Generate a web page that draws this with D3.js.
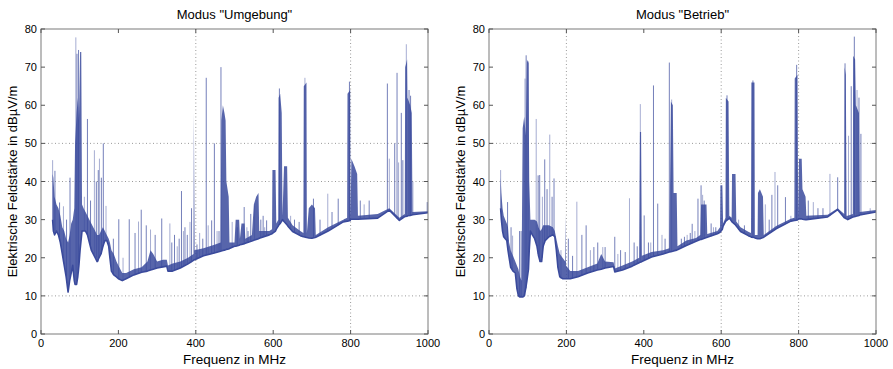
<!DOCTYPE html>
<html>
<head>
<meta charset="utf-8">
<script src="https://cdn.jsdelivr.net/npm/d3@7"></script>
<style>
  body { margin: 0; background: #fff; }
  text { font-family: "Liberation Sans", Arial, Helvetica, sans-serif; fill: #000; }
</style>
</head>
<body>
<svg id="chart" width="893" height="369"></svg>
<script>
// axis ticks
const xTicks = [0, 200, 400, 600, 800, 1000];
const yTicks = [0, 10, 20, 30, 40, 50, 60, 70, 80];
const gridY = [10, 40, 50];
const gridXUmgebung = [400, 800];
const gridXBetrieb = [200, 600, 800];

// noise band per frequency: [MHz, lower, upper] in dBµV/m
const bandUmgebung = [
  [30, 30, 42], [32, 27, 41], [35, 26, 36], [40, 27, 34], [45, 26, 33], [50, 24, 31],
  [55, 21, 28], [60, 18, 27], [65, 15, 25], [70, 11, 24], [74, 14, 26], [78, 16, 29],
  [82, 18, 30], [86, 14, 33], [88, 13, 50], [92, 13, 58], [95, 15, 62], [98, 18, 56],
  [101, 22, 74], [104, 25, 74], [106, 27, 34], [110, 27, 33], [115, 27, 32], [120, 26, 31],
  [125, 24, 30], [130, 22, 29], [135, 21, 28], [140, 20, 27], [145, 19, 26], [150, 20, 26],
  [155, 21, 27], [160, 23, 28], [165, 24.5, 27], [170, 24.5, 26], [175, 23, 25], [178, 20, 24],
  [182, 16.5, 22], [188, 15.5, 21], [195, 15, 19], [200, 14.5, 18], [210, 14, 16], [220, 14.5, 16],
  [240, 15.5, 17], [260, 16.2, 17.5], [275, 16.5, 19], [283, 16.8, 22], [290, 17, 21], [300, 17.3, 19],
  [315, 17.6, 19.5], [325, 17.8, 19.5], [328, 16.5, 18], [340, 16.5, 18.5], [360, 17.3, 19], [380, 18.4, 20],
  [394, 19.3, 21], [395, 19.4, 58], [397, 19.5, 22], [420, 20.5, 22.5], [450, 21.3, 23.5], [464, 21.7, 24],
  [466, 21.8, 56], [470, 21.9, 60], [474, 22, 58], [477, 22.1, 56], [479, 22.2, 40], [485, 22.3, 36],
  [487, 22.4, 24], [500, 23, 24], [503, 23, 30], [512, 23.3, 30], [514, 23.4, 25], [518, 23.5, 29],
  [526, 23.7, 29], [528, 23.8, 25], [545, 24.4, 26], [550, 24.6, 34], [556, 24.8, 36], [562, 25, 37],
  [564, 25.1, 27], [590, 26, 27], [597, 26.3, 27.5], [598, 26.4, 43], [606, 27, 43], [608, 27.5, 29],
  [613, 28.3, 30], [614, 28.5, 62], [618, 29, 63], [622, 29.6, 58], [624, 30, 31], [628, 29.5, 44],
  [636, 28.6, 44], [638, 28.3, 30.5], [650, 26.9, 28.5], [670, 25.8, 27], [678, 25.5, 26.5], [679, 25.5, 65],
  [686, 25.3, 66], [687, 25.3, 26.5], [692, 25.2, 33], [700, 25.1, 34], [708, 25.3, 33], [710, 25.4, 26],
  [742, 27, 28], [781, 29.4, 30], [791, 29.6, 30.5], [792, 29.6, 63], [799, 29.8, 64], [800, 30.1, 31],
  [802, 30.1, 46], [810, 30.1, 44], [817, 30.1, 42], [819, 30.1, 31], [870, 30.4, 31.5], [900, 32.5, 33],
  [926, 29.8, 30.5], [940, 30.8, 31.5], [941, 30.8, 70], [946, 30.9, 72], [947, 31, 62], [954, 31.1, 60],
  [958, 31.2, 58], [960, 31.3, 32], [1000, 31.8, 32.2]
];

// single carriers: [MHz, base, peak]
const spikesUmgebung = [
  [30, 30, 45.6], [36, 27, 42.8], [48, 25, 34.5], [58, 19, 33.5], [66, 15, 30], [75, 15, 41],
  [90, 14, 77.8], [93, 14, 73.5], [97, 16, 74.5], [112, 27, 36], [120, 26, 56.4], [128, 23, 35],
  [138, 21, 48.2], [143, 20, 40], [148, 19, 43], [151, 20, 46], [156, 21, 41], [161, 23, 50],
  [168, 24.5, 33.6], [187, 15.5, 25], [201, 14.5, 30.1], [212, 14, 20], [228, 15, 30.1], [243, 15.5, 26.5],
  [252, 16, 29.5], [259, 16.2, 32.6], [272, 16.5, 28.5], [283, 16.8, 27.4], [295, 17.2, 26], [312, 17.5, 30.3],
  [333, 16.5, 29], [338, 16.6, 24], [345, 16.8, 26], [352, 17, 23], [357, 17.2, 25], [363, 17.4, 37.5],
  [368, 17.7, 27], [372, 18, 28], [378, 18.2, 26], [385, 18.6, 29.4], [389, 18.8, 33],
  [403, 19.6, 23.5], [410, 19.9, 26.5], [418, 20.4, 25], [427, 20.7, 67.2], [432, 20.9, 28.5], [441, 21.1, 29.8],
  [448, 21.2, 50], [455, 21.4, 27], [460, 21.6, 27], [465, 21.8, 70], [494, 22.8, 29.4], [507, 23.1, 28],
  [525, 23.7, 33.3], [532, 23.9, 28], [535, 24, 27], [542, 24.3, 31.5], [552, 24.7, 33.7], [568, 25.2, 30],
  [574, 25.4, 31], [578, 25.6, 28], [583, 25.8, 29.8], [616, 28.7, 64.4], [645, 27.3, 31], [655, 26.5, 30],
  [667, 25.9, 29.4], [682, 25.4, 67.2], [704, 25.2, 35.5], [721, 25.8, 30], [741, 27, 36.8], [752, 27.6, 32],
  [768, 28.5, 35.5], [785, 29.4, 30.2], [797, 29.8, 66.2], [825, 30.2, 35], [835, 30.2, 34], [848, 30.3, 35],
  [895, 32, 65.7], [900, 32.5, 46], [914, 31, 50], [920, 30.3, 68.5], [924, 30, 45], [931, 30.2, 58],
  [935, 30.5, 45.6], [944, 30.9, 76], [951, 31, 64], [955, 31.1, 62.5], [961, 31.3, 40], [998, 31.8, 34.6]
];

const bandBetrieb = [
  [30, 33, 41], [32, 30, 37], [35, 27, 33], [38, 25.5, 31], [42, 25, 30], [46, 24.5, 29],
  [49, 22, 28], [52, 20, 24], [56, 17.5, 22], [62, 16.5, 20.5], [68, 16, 19], [72, 12, 18],
  [76, 10, 17], [80, 9.7, 15], [84, 9.7, 14], [87, 9.7, 54], [91, 10, 57], [95, 12, 52],
  [98, 14, 72], [102, 17, 71], [104, 22, 40], [107, 27, 30], [112, 26, 30], [118, 25, 30],
  [124, 23, 29.5], [128, 20.5, 28], [132, 19, 27], [136, 19, 27.5], [140, 23, 28.5], [145, 24.5, 28.5],
  [155, 25.5, 28.5], [165, 26, 28], [170, 25.5, 27], [174, 22, 25], [178, 17.5, 23], [183, 15, 21],
  [190, 14.5, 20], [197, 14.5, 19], [198, 14.5, 31.5], [199, 14.5, 18], [210, 14.5, 16.5], [230, 15, 16.5],
  [255, 16, 17.5], [280, 16.8, 18.5], [290, 17, 21], [300, 17.3, 19], [322, 17.7, 18.8], [325, 16.3, 17.2],
  [345, 16.8, 18], [370, 17.8, 19], [388, 18.7, 20], [390, 18.8, 53], [393, 18.9, 53], [395, 19, 20.5],
  [420, 20.2, 21.5], [450, 21, 22], [466, 21.5, 22.5], [470, 21.6, 61], [475, 21.7, 60], [477, 21.8, 37],
  [485, 22, 37], [487, 22.1, 23], [510, 23.2, 24.5], [535, 24.3, 25.2], [546, 24.8, 26], [548, 24.8, 34],
  [562, 25.3, 34], [564, 25.4, 26.2], [590, 26.3, 27], [597, 26.7, 28], [598, 26.8, 39], [603, 27.5, 39],
  [605, 28.3, 29], [611, 29.5, 30.5], [612, 29.6, 62], [619, 30.2, 61], [621, 30.4, 31], [627, 29.6, 30.5],
  [628, 29.4, 42], [637, 28.6, 42], [639, 28.3, 29.5], [650, 26.9, 28], [670, 25.8, 26.8], [677, 25.5, 26.5],
  [678, 25.4, 66], [686, 25.3, 66], [687, 25.2, 26], [694, 25, 26], [695, 25, 37], [700, 25, 38],
  [708, 25.3, 36], [710, 25.4, 26], [742, 27.6, 28.3], [780, 29.6, 30.2], [789, 29.8, 30.5], [790, 29.8, 67],
  [797, 29.9, 68], [799, 30.1, 31], [801, 30.2, 46], [808, 30.2, 46], [810, 30.1, 38], [818, 30, 36],
  [820, 30, 31], [875, 30.7, 31.3], [901, 32.6, 33], [918, 30.5, 31.5], [919, 30.5, 70], [922, 30.3, 68],
  [924, 30.2, 31], [927, 30, 31], [940, 30.7, 31.5], [941, 30.7, 73], [946, 30.8, 72], [948, 30.9, 60],
  [956, 31.1, 58], [958, 31.2, 32], [1000, 32, 32.5]
];

const spikesBetrieb = [
  [30, 33, 43], [48, 24, 34.6], [57, 17.5, 28], [61, 17, 25.8], [79, 9.7, 27], [83, 9.7, 27],
  [93, 10, 67], [96, 12, 73.1], [101, 17, 71.5], [122, 24, 56.4], [127, 21, 41.6], [131, 19, 41.7],
  [138, 20, 36], [144, 24, 45.8], [150, 25, 38], [157, 25.5, 52.3], [163, 26, 36], [168, 25.8, 40.8],
  [186, 14.5, 22], [205, 14.5, 25], [216, 14.6, 20.5], [227, 14.9, 34.7], [240, 15.4, 26], [251, 15.8, 28.5],
  [262, 16.2, 22], [271, 16.5, 22.8], [281, 16.8, 24], [294, 17.2, 22.8], [300, 17.3, 22.8], [325, 16.3, 25.5],
  [333, 16.5, 21], [340, 16.6, 22], [352, 17, 21.5], [363, 17.5, 35.6], [375, 18, 24], [383, 18.5, 23],
  [391, 18.8, 60.3], [401, 19.3, 31.1], [412, 19.8, 24], [418, 20.1, 24], [425, 20.4, 65.2], [436, 20.8, 34.2],
  [447, 21, 26], [455, 21.2, 25], [466, 21.5, 71.2], [472, 21.6, 61.5], [497, 22.6, 25], [505, 23, 25.5],
  [512, 23.3, 26], [520, 23.6, 26.5], [525, 23.8, 28.9], [532, 24.1, 27], [540, 24.5, 35.5], [548, 24.8, 39],
  [552, 24.9, 36.5], [556, 25, 35], [574, 25.6, 29], [580, 25.9, 28], [586, 26.1, 28], [615, 29.9, 62.6],
  [645, 27.3, 30], [660, 26.3, 28.5], [682, 25.4, 66.5], [714, 25.6, 34],
  [724, 26.3, 30], [731, 26.8, 36.5], [739, 27.4, 42.5], [746, 27.8, 39], [766, 28.9, 35.9], [780, 29.6, 31],
  [795, 29.9, 70.6], [825, 30.1, 35], [838, 30.2, 34.6], [850, 30.3, 33], [863, 30.4, 33], [881, 30.9, 42],
  [901, 32.6, 41.1], [920, 30.4, 71], [929, 30.1, 52], [936, 30.4, 65], [944, 30.8, 78], [951, 31, 64],
  [956, 31.1, 62], [961, 31.2, 52.5], [985, 31.8, 33]
];

const lineColor = "#3a4a9c";
const svg = d3.select("#chart");

function drawPanel(left, right, title, band, spikes, gridX, clipId) {
  const top = 29, bottom = 334;
  const x = d3.scaleLinear().domain([0, 1000]).range([left, right]);
  const y = d3.scaleLinear().domain([0, 80]).range([bottom, top]);
  const g = svg.append("g");

  g.append("clipPath").attr("id", clipId)
    .append("rect").attr("x", left).attr("y", top)
    .attr("width", right - left).attr("height", bottom - top);

  // dotted grid
  g.selectAll(".gy").data(gridY).enter().append("line")
    .attr("x1", left).attr("x2", right)
    .attr("y1", d => y(d)).attr("y2", d => y(d))
    .attr("stroke", "#808080").attr("stroke-width", 0.8)
    .attr("stroke-dasharray", "1,2.5");
  g.selectAll(".gx").data(gridX).enter().append("line")
    .attr("x1", d => x(d)).attr("x2", d => x(d))
    .attr("y1", top).attr("y2", bottom)
    .attr("stroke", "#909090").attr("stroke-width", 0.9)
    .attr("stroke-dasharray", "1,2.5");

  const plot = g.append("g").attr("clip-path", "url(#" + clipId + ")");

  plot.selectAll(".spike").data(spikes).enter().append("line")
    .attr("x1", d => x(d[0])).attr("x2", d => x(d[0]))
    .attr("y1", d => y(d[1])).attr("y2", d => y(d[2]))
    .attr("stroke", lineColor)
    .attr("stroke-width", 1)
    .attr("stroke-opacity", (d, i) => i % 3 == 0 ? 0.45 : 0.7);

  const area = d3.area()
    .x(d => x(d[0]))
    .y0(d => y(d[1]))
    .y1(d => y(d[2]));
  plot.append("path")
    .datum(band)
    .attr("d", area)
    .attr("fill", lineColor)
    .attr("fill-opacity", 0.85);

  // lower envelope drawn as the noise floor line
  const floorLine = d3.line()
    .x(d => x(d[0]))
    .y(d => y(d[1]));
  plot.append("path")
    .datum(band)
    .attr("d", floorLine)
    .attr("fill", "none")
    .attr("stroke", lineColor)
    .attr("stroke-width", 1.6)
    .attr("stroke-linejoin", "round");

  // frame + inward ticks on all sides
  g.append("rect").attr("x", left).attr("y", top)
    .attr("width", right - left).attr("height", bottom - top)
    .attr("fill", "none").attr("stroke", "#7a7a7a").attr("stroke-width", 1);

  const tk = 4;
  g.selectAll(".xtb").data(xTicks).enter().append("line")
    .attr("x1", d => x(d)).attr("x2", d => x(d))
    .attr("y1", bottom).attr("y2", bottom - tk).attr("stroke", "#555");
  g.selectAll(".xtt").data(xTicks).enter().append("line")
    .attr("x1", d => x(d)).attr("x2", d => x(d))
    .attr("y1", top).attr("y2", top + tk).attr("stroke", "#555");
  g.selectAll(".ytl").data(yTicks).enter().append("line")
    .attr("x1", left).attr("x2", left + tk)
    .attr("y1", d => y(d)).attr("y2", d => y(d)).attr("stroke", "#555");
  g.selectAll(".ytr").data(yTicks).enter().append("line")
    .attr("x1", right).attr("x2", right - tk)
    .attr("y1", d => y(d)).attr("y2", d => y(d)).attr("stroke", "#555");

  g.selectAll(".xl").data(xTicks).enter().append("text")
    .attr("x", d => x(d)).attr("y", bottom + 13)
    .attr("text-anchor", "middle").style("font-size", "11px")
    .text(d => d);
  g.selectAll(".yl").data(yTicks).enter().append("text")
    .attr("x", left - 4).attr("y", d => y(d) + 4)
    .attr("text-anchor", "end").style("font-size", "11px")
    .text(d => d);

  g.append("text")
    .attr("x", (left + right) / 2).attr("y", 19)
    .attr("text-anchor", "middle").style("font-size", "13px")
    .text(title);
  g.append("text")
    .attr("x", (left + right) / 2).attr("y", 364)
    .attr("text-anchor", "middle").style("font-size", "13.5px")
    .text("Frequenz in MHz");
  g.append("text")
    .attr("transform", "translate(" + (left - 24) + "," + ((top + bottom) / 2) + ") rotate(-90)")
    .attr("text-anchor", "middle").style("font-size", "13px")
    .text("Elektrische Feldstärke in dBµV/m");
}

drawPanel(41, 428, 'Modus "Umgebung"', bandUmgebung, spikesUmgebung, gridXUmgebung, "clipU");
drawPanel(489, 876, 'Modus "Betrieb"', bandBetrieb, spikesBetrieb, gridXBetrieb, "clipB");
</script>
</body>
</html>
